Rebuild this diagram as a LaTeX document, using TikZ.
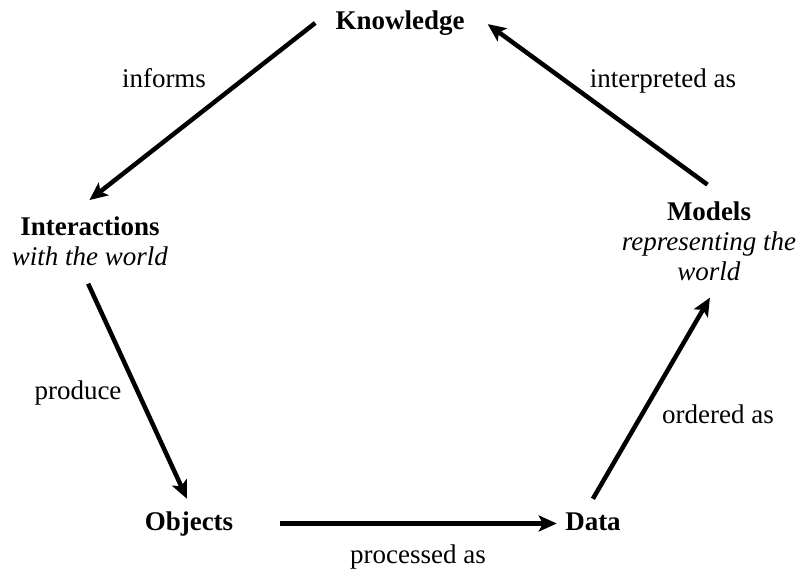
\documentclass[tikz,border=0pt]{standalone}
\usepackage{fontspec}
\setmainfont{Liberation Serif}
\usetikzlibrary{arrows.meta, positioning}

\begin{document}
\begin{tikzpicture}[
        x=1pt, y=1pt,
        >={Stealth[length=18pt, width=16pt, inset=4pt]},
        every node/.style={font=\fontsize{27}{30}\selectfont},
        stage/.style={font=\fontsize{27}{30}\selectfont\bfseries, text height=19pt, text depth=6pt, inner sep=2pt},
        twoline/.style={align=center, inner sep=2pt},
        link/.style={->, line width=4.5pt}
    ]
    \useasboundingbox (0,0) rectangle (798,571);

    % Stages of the cycle
    \node[stage, anchor=base] (know) at (400,541) {Knowledge};
    \node[twoline] (inter) at (90,330) {\textbf{Interactions}\\\textit{with the world}};
    \node[stage, anchor=base] (obj) at (189,41) {Objects};
    \node[stage, anchor=base] (data) at (593,41) {Data};
    \node[twoline] (models) at (709,330) {\textbf{Models}\\\textit{representing the}\\\textit{world}};

    % Verbs along the arrows
    \node[anchor=base] (informs) at (164,483) {informs};
    \node[anchor=base] (produce) at (78,172) {produce};
    \node[anchor=base] (processed) at (418,8) {processed as};
    \node[anchor=base] (ordered) at (718,148) {ordered as};
    \node[anchor=base] (interpreted) at (663,483) {interpreted as};

    % Arrows round the cycle
    \draw[link, shorten <=23pt, shorten >=23pt] (know.north west) -- (inter.125);
    \draw[link, shorten <=17.6pt, shorten >=11pt] (inter.-109) -- (obj.80);
    \draw[link, shorten <=44.8pt, shorten >=6.3pt] (obj.east) -- (data.west);
    \draw[link, shorten <=11.6pt, shorten >=17.3pt] (data.112) -- (models.-77);
    \draw[link, shorten <=24.9pt, shorten >=26pt] (models.66) -- (know.north east);

\end{tikzpicture}
\end{document}
